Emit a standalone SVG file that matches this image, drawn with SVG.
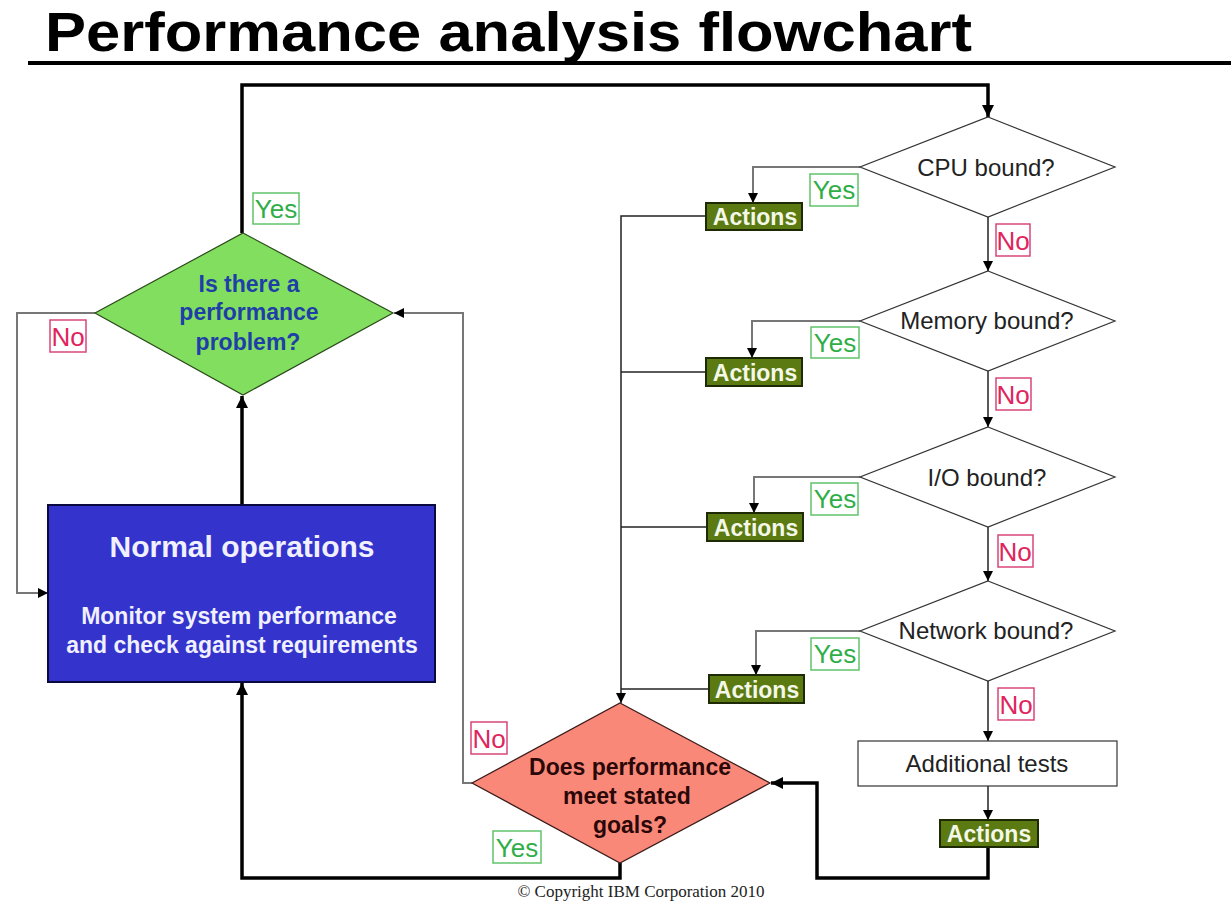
<svg xmlns="http://www.w3.org/2000/svg" width="1231" height="909" viewBox="0 0 1231 909">
<style>
.title{font-family:"Liberation Sans",Arial,sans-serif;font-weight:bold;font-size:56px;fill:#000}
.q{font-family:"Liberation Sans",Arial,sans-serif;font-size:24px;fill:#222;text-anchor:middle}
.act{fill:#5b7a12;stroke:#1e2a05;stroke-width:2}
.acttxt{font-family:"Liberation Sans",Arial,sans-serif;font-weight:bold;font-size:23px;fill:#f4f8e8;text-anchor:middle}
.yesbox{fill:#fff;stroke:#5fc46a;stroke-width:1.5}
.yes{font-family:"Liberation Sans",Arial,sans-serif;font-size:26px;fill:#2fae48;text-anchor:middle}
.nobox{fill:#fff;stroke:#d9467a;stroke-width:1.5}
.no{font-family:"Liberation Sans",Arial,sans-serif;font-size:26px;fill:#e0245e;text-anchor:middle}
.thin{fill:none;stroke:#222;stroke-width:1.5}
.gray{fill:none;stroke:#777;stroke-width:2}
.thick{fill:none;stroke:#000;stroke-width:3.5}
.dia{fill:#fff;stroke:#333;stroke-width:1.2}
</style>
<defs>
<marker id="ah" viewBox="0 0 10 10" refX="10" refY="5" markerWidth="10" markerHeight="10" markerUnits="userSpaceOnUse" orient="auto"><path d="M0,0 L10,5 L0,10 z" fill="#000"/></marker>
<marker id="ahb" viewBox="0 0 10 10" refX="10" refY="5" markerWidth="12" markerHeight="12" markerUnits="userSpaceOnUse" orient="auto"><path d="M0,0 L10,5 L0,10 z" fill="#000"/></marker>
</defs>
<rect width="1231" height="909" fill="#fff"/>
<text class="title" x="45" y="51" textLength="927" lengthAdjust="spacingAndGlyphs">Performance analysis flowchart</text>
<line x1="28" y1="63" x2="1231" y2="63" stroke="#000" stroke-width="4"/>

<g id="connectors">
<path class="thick" d="M242,233 V85 H988 V117" marker-end="url(#ahb)"/>
<path class="thick" d="M242,505 V396" marker-end="url(#ahb)"/>
<path class="thick" d="M620,863 V878 H242 V683" marker-end="url(#ahb)"/>
<path class="thick" d="M988,848 V878 H817 V783 H771" marker-end="url(#ahb)"/>
<path class="gray" d="M95,313 H17 V593 H48" marker-end="url(#ah)"/>
<path class="gray" d="M472,783 H463 V313 H394" marker-end="url(#ah)"/>
<path class="thin" d="M988,217 V271" marker-end="url(#ah)"/>
<path class="thin" d="M988,371 V427" marker-end="url(#ah)"/>
<path class="thin" d="M988,527 V581" marker-end="url(#ah)"/>
<path class="thin" d="M988,681 V741" marker-end="url(#ah)"/>
<path class="thin" d="M988,786 V820" marker-end="url(#ah)"/>
<path class="gray" d="M860,167 H753 V203" marker-end="url(#ah)"/>
<path class="gray" d="M860,321 H752 V358" marker-end="url(#ah)"/>
<path class="gray" d="M860,477 H754 V513" marker-end="url(#ah)"/>
<path class="gray" d="M860,631 H756 V675" marker-end="url(#ah)"/>
<path class="thin" d="M706,216 H621 V703" marker-end="url(#ah)"/>
<path class="thin" d="M706,372 H621"/>
<path class="thin" d="M707,527 H621"/>
<path class="thin" d="M709,689 H621"/>
</g>

<g id="problem">
<polygon points="243,233 393,313 243,395 95,313" fill="#82de5e" stroke="#2a4a1a" stroke-width="1.2"/>
<g font-family="'Liberation Sans',Arial,sans-serif" font-weight="bold" font-size="23" fill="#1f3fa8" text-anchor="middle">
<text x="249" y="292">Is there a</text>
<text x="249" y="320">performance</text>
<text x="248" y="350">problem?</text>
</g>
</g>

<g id="normal">
<rect x="48" y="505" width="387" height="177" fill="#3434cc" stroke="#0a0a40" stroke-width="2"/>
<g font-family="'Liberation Sans',Arial,sans-serif" font-weight="bold" fill="#f0f0ff" text-anchor="middle">
<text x="242" y="557" font-size="30">Normal operations</text>
<text x="239" y="624" font-size="23">Monitor system performance</text>
<text x="242" y="653" font-size="23">and check against requirements</text>
</g>
</g>

<g id="goals">
<polygon points="620,703 770,783 620,863 472,783" fill="#fa8878" stroke="#3a1a1a" stroke-width="1.2"/>
<g font-family="'Liberation Sans',Arial,sans-serif" font-weight="bold" font-size="23" fill="#2a0808" text-anchor="middle">
<text x="630" y="775">Does performance</text>
<text x="627" y="804">meet stated</text>
<text x="630" y="833">goals?</text>
</g>
</g>

<g id="cpu"><polygon class="dia" points="988,117 1115,167 988,217 860,167"/><text class="q" x="986" y="176">CPU bound?</text></g>
<g id="memory"><polygon class="dia" points="988,271 1115,321 988,371 860,321"/><text class="q" x="987" y="329">Memory bound?</text></g>
<g id="io"><polygon class="dia" points="988,427 1115,477 988,527 860,477"/><text class="q" x="987" y="486">I/O bound?</text></g>
<g id="network"><polygon class="dia" points="988,581 1115,631 988,681 860,631"/><text class="q" x="986" y="639">Network bound?</text></g>
<g id="additional"><rect x="858" y="741" width="259" height="45" fill="#fff" stroke="#333" stroke-width="1.2"/><text class="q" x="987" y="772">Additional tests</text></g>

<g id="actions1"><rect class="act" x="706" y="203" width="96" height="27"/><text class="acttxt" x="755" y="225">Actions</text></g>
<g id="actions2"><rect class="act" x="706" y="358" width="96" height="28"/><text class="acttxt" x="755" y="381">Actions</text></g>
<g id="actions3"><rect class="act" x="707" y="513" width="96" height="28"/><text class="acttxt" x="756" y="536">Actions</text></g>
<g id="actions4"><rect class="act" x="709" y="675" width="95" height="28"/><text class="acttxt" x="757" y="698">Actions</text></g>
<g id="actions5"><rect class="act" x="940" y="820" width="98" height="27"/><text class="acttxt" x="989" y="842">Actions</text></g>

<g id="labels">
<rect class="yesbox" x="253" y="193" width="46" height="31"/><text class="yes" x="276" y="218">Yes</text>
<rect class="nobox" x="50" y="320" width="36" height="32"/><text class="no" x="68" y="346">No</text>
<rect class="yesbox" x="810" y="174" width="48" height="32"/><text class="yes" x="834" y="199">Yes</text>
<rect class="yesbox" x="811" y="327" width="48" height="31"/><text class="yes" x="835" y="352">Yes</text>
<rect class="yesbox" x="811" y="483" width="47" height="32"/><text class="yes" x="835" y="508">Yes</text>
<rect class="yesbox" x="811" y="638" width="48" height="32"/><text class="yes" x="835" y="663">Yes</text>
<rect class="nobox" x="996" y="224" width="34" height="32"/><text class="no" x="1013" y="250">No</text>
<rect class="nobox" x="996" y="378" width="35" height="32"/><text class="no" x="1013" y="404">No</text>
<rect class="nobox" x="998" y="535" width="35" height="32"/><text class="no" x="1015" y="561">No</text>
<rect class="nobox" x="998" y="688" width="36" height="32"/><text class="no" x="1016" y="714">No</text>
<rect class="nobox" x="471" y="722" width="36" height="32"/><text class="no" x="489" y="748">No</text>
<rect class="yesbox" x="493" y="831" width="48" height="32"/><text class="yes" x="517" y="857">Yes</text>
</g>

<text x="641" y="897" font-family="'Liberation Serif','Times New Roman',serif" font-size="17" fill="#222" text-anchor="middle">© Copyright IBM Corporation 2010</text>
</svg>
